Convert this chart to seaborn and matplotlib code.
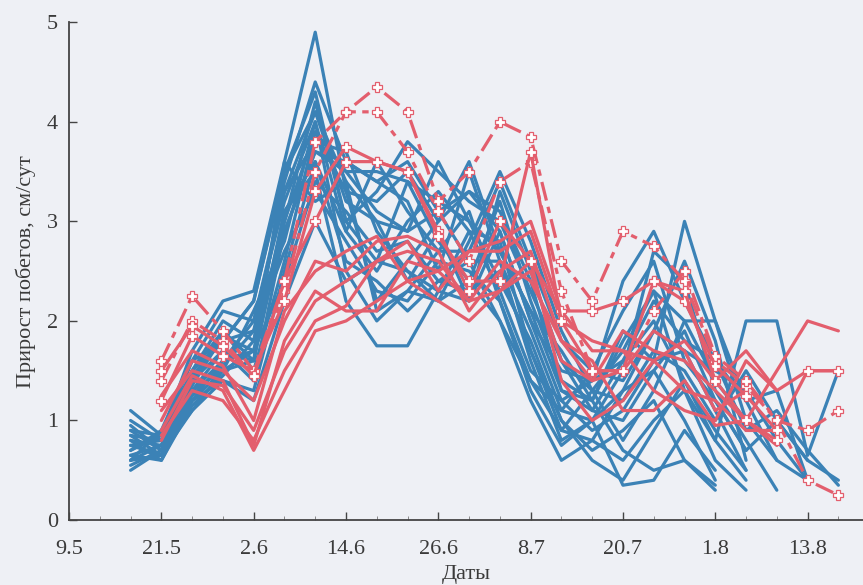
import numpy as np
import pandas as pd
import matplotlib
matplotlib.use("Agg")
import matplotlib.pyplot as plt
import seaborn as sns

# Observation days, counted from 9.5
blue_days = list(range(8, 104, 4))
red_days = list(range(12, 104, 4))

tick_days = [0, 12, 24, 36, 48, 60, 72, 84, 96]
tick_labels = ['9.5', '21.5', '2.6', '14.6', '26.6', '8.7', '20.7', '1.8', '13.8']

# Blue shoots (growth, cm/day), one list per shoot starting at day 8
blue_lines = [
    [1.1, 0.85, 1.7, 2.2, 2.3, 3.6, 4.9, 3.3, 2.2, 2.6, 3.0, 3.3, 2.9, 2.0, 1.2, 0.9, 1.1, 1.6, 3.0, 2.0, 1.0, 0.6],
    [0.95, 0.7, 1.5, 2.0, 1.8, 3.4, 4.4, 3.6, 3.4, 3.2, 2.5, 3.5, 2.6, 1.6, 0.8, 1.0, 1.5, 2.7, 2.4, 1.3, 0.8, 0.3],
    [0.85, 0.65, 1.3, 1.7, 1.6, 3.0, 4.2, 3.0, 2.6, 3.4, 2.8, 2.4, 3.2, 2.2, 1.4, 1.2, 0.7, 0.5, 0.6, 0.35],
    [0.75, 0.8, 1.2, 1.5, 2.1, 2.8, 4.0, 2.5, 2.0, 2.3, 2.2, 2.8, 3.5, 2.8, 1.9, 1.3, 0.8, 1.3, 2.0, 2.0, 1.2, 0.6, 0.4],
    [0.65, 0.75, 1.4, 1.9, 1.5, 2.6, 3.9, 3.5, 3.1, 2.9, 3.6, 3.0, 2.4, 1.8, 1.0, 0.6, 0.4, 0.9, 1.4, 0.9, 0.5],
    [0.6, 0.9, 1.6, 1.8, 1.9, 3.3, 3.8, 3.7, 2.9, 2.5, 2.3, 2.2, 3.3, 2.5, 1.6, 1.1, 1.6, 2.0, 1.4, 0.8, 2.0, 2.0, 0.65, 1.5],
    [0.55, 0.7, 1.1, 1.4, 1.3, 2.5, 3.6, 2.9, 3.6, 3.1, 2.7, 3.1, 2.2, 1.4, 1.1, 1.5, 2.1, 2.6, 1.6, 1.2, 0.7, 1.0, 0.6, 0.4],
    [0.8, 0.6, 1.2, 1.6, 1.7, 3.1, 3.5, 2.2, 1.75, 1.75, 2.3, 2.9, 2.8, 1.7, 0.9, 0.8, 1.3, 1.9, 1.7, 1.1, 0.5],
    [0.7, 0.85, 1.5, 1.8, 2.2, 3.5, 4.1, 3.2, 3.0, 2.9, 3.1, 3.3, 3.1, 2.4, 1.3, 1.2, 1.8, 2.3, 1.3, 0.6, 0.3],
    [1.0, 0.8, 1.4, 1.7, 1.4, 2.9, 3.7, 3.6, 3.4, 3.6, 3.1, 2.6, 2.6, 1.9, 1.1, 1.0, 0.35, 0.4, 0.9, 0.5],
    [0.9, 0.7, 1.25, 1.55, 1.9, 2.7, 3.3, 2.8, 2.3, 2.2, 2.6, 2.5, 2.2, 1.3, 0.75, 1.0, 1.3, 1.5, 1.0, 0.4],
    [0.6, 0.65, 1.1, 1.5, 1.6, 3.6, 3.2, 3.4, 3.0, 2.4, 2.9, 2.2, 2.9, 2.0, 1.5, 1.4, 1.6, 2.2, 1.8, 1.6, 1.2, 1.3, 0.4],
    [0.7, 0.9, 1.3, 1.6, 2.0, 3.2, 4.0, 2.9, 2.5, 3.0, 3.3, 2.9, 2.3, 1.5, 1.2, 1.4, 2.4, 2.9, 2.2, 1.6, 0.9, 1.1, 0.7, 0.35],
    [0.8, 0.75, 1.35, 1.85, 1.7, 2.4, 3.4, 3.1, 2.7, 2.8, 2.4, 2.3, 2.5, 1.7, 1.0, 0.7, 0.9, 1.2, 0.6, 0.3],
    [0.65, 0.6, 1.15, 1.45, 1.8, 3.0, 3.9, 3.3, 3.2, 3.5, 3.0, 3.6, 2.7, 2.1, 1.7, 1.2, 1.9, 1.6, 1.7, 1.5, 1.3, 0.8, 0.4],
    [0.9, 0.85, 1.6, 2.1, 2.0, 3.3, 4.1, 3.4, 2.1, 2.3, 2.7, 2.7, 3.4, 2.6, 1.8, 1.5, 1.4, 1.9, 2.6, 1.8, 0.6],
    [0.5, 0.7, 1.2, 1.4, 1.2, 2.2, 3.0, 2.4, 2.6, 2.5, 2.2, 2.4, 2.0, 1.2, 0.6, 0.8, 0.6, 1.0, 1.3, 0.8, 0.4],
    [0.75, 0.65, 1.45, 1.8, 2.2, 3.5, 4.3, 3.0, 3.3, 3.8, 3.5, 3.2, 3.0, 2.3, 1.6, 1.3, 1.2, 1.7, 1.5, 1.0, 1.5, 1.0, 0.6],
    [0.85, 0.8, 1.3, 1.5, 1.7, 2.9, 3.7, 3.5, 3.5, 3.4, 3.2, 3.0, 2.7, 2.1, 1.3, 1.1, 1.0, 1.5, 1.9, 1.2, 0.7],
    [0.6, 0.75, 1.5, 1.9, 1.6, 3.1, 3.6, 2.6, 2.4, 2.1, 2.4, 2.6, 2.0, 1.4, 0.9, 1.3, 1.7, 2.3, 2.0, 1.4, 1.0],
]

# Red shoots, starting at day 12; marked ones carry '+' markers
red_plain = [
    [1.0, 1.6, 1.5, 1.2, 2.0, 2.6, 2.5, 2.8, 2.85, 2.7, 2.1, 2.5, 2.7, 1.8, 1.4, 1.9, 1.7, 1.6, 1.3, 1.0, 1.5, 2.0, 1.9],
    [0.8, 1.4, 1.35, 0.9, 1.7, 2.2, 2.4, 2.6, 2.7, 2.6, 2.2, 2.3, 2.6, 1.4, 1.0, 1.2, 1.6, 1.8, 1.4, 1.7, 1.3, 1.5, 1.5],
    [0.85, 1.3, 1.2, 0.8, 1.5, 2.0, 2.15, 2.6, 2.8, 2.3, 2.7, 2.7, 2.9, 2.0, 1.8, 1.7, 1.3, 1.1, 1.0, 1.6, 1.3],
    [1.1, 1.5, 1.4, 0.75, 1.8, 2.3, 2.1, 2.1, 2.6, 2.5, 2.2, 2.6, 2.4, 1.8, 1.6, 1.1, 1.1, 1.4, 0.95, 1.0, 0.75],
    [0.9, 1.45, 1.3, 0.7, 1.3, 1.9, 2.0, 2.2, 2.4, 2.2, 2.0, 2.3, 2.5, 1.6, 1.4, 1.5, 1.9, 1.7, 1.1, 1.3],
    [1.25, 1.7, 1.55, 1.0, 2.1, 2.5, 2.7, 2.85, 2.4, 2.5, 2.7, 2.8, 3.0, 2.1, 1.7, 1.7, 1.6, 1.3, 1.2, 0.9, 0.9],
]
red_marked = [
    [1.6, 2.25, 1.9, 1.5, 2.4, 3.8, 4.1, 4.35, 4.1, 3.2, 3.5, 4.0, 3.85, 2.6, 2.2, 2.9, 2.75, 2.4, 1.6, 1.35, 1.0, 0.4, 0.25],
    [1.4, 2.0, 1.8, 1.45, 2.3, 3.5, 4.1, 4.1, 3.7, 3.1, 2.6, 3.4, 3.6, 2.3, 1.5, 1.5, 2.1, 2.5, 1.65, 1.4, 1.0, 0.9, 1.1],
    [1.2, 1.85, 1.65, 1.5, 2.2, 3.3, 3.75, 3.6, 3.5, 2.9, 2.3, 3.0, 2.6, 2.1, 2.1, 2.2, 2.4, 2.2, 1.55, 1.25, 0.9, 1.5, 1.5],
    [1.5, 1.95, 1.75, 1.45, 2.4, 3.0, 3.6, 3.6, 3.5, 2.85, 2.4, 2.4, 3.7, 2.0, 1.5, 1.5, 2.4, 2.3, 1.4, 1.0, 0.8],
]
red_dashed = [True, True, False, False]


def to_long(lines, days):
    rows = []
    for i, vals in enumerate(lines):
        for d, v in zip(days, vals):
            rows.append({'line': i, 'day': d, 'value': v})
    return pd.DataFrame(rows)


blue_color = '#3b82b6'
red_color = '#e35e6d'

sns.set_style('ticks')
plt.rcParams['font.family'] = ['Liberation Serif', 'DejaVu Serif']

fig, ax = plt.subplots(figsize=(8.63, 5.85), dpi=100)
fig.patch.set_facecolor('#eef0f5')
ax.set_facecolor('#eef0f5')

sns.lineplot(data=to_long(blue_lines, blue_days), x='day', y='value', units='line',
             estimator=None, color=blue_color, lw=2.3, ax=ax, legend=False)
sns.lineplot(data=to_long(red_plain, red_days), x='day', y='value', units='line',
             estimator=None, color=red_color, lw=2.3, ax=ax, legend=False)
for vals, dashed in zip(red_marked, red_dashed):
    df = pd.DataFrame({'day': red_days[:len(vals)], 'value': vals})
    sns.lineplot(data=df, x='day', y='value', color=red_color, lw=2.3, ax=ax,
                 marker='P', markersize=6.5, markerfacecolor='white',
                 markeredgecolor=red_color, markeredgewidth=0.9,
                 linestyle=(0, (6, 2, 2, 2)) if dashed else '-')

ax.set_xlim(0, 103.2)
ax.set_ylim(0, 5)
ax.set_xticks(tick_days)
ax.set_xticklabels(tick_labels)
ax.set_xticks(np.arange(0, 104, 4), minor=True)
ax.set_yticks([0, 1, 2, 3, 4, 5])
ax.tick_params(axis='both', direction='in', length=6, width=1, colors='#444444',
               labelsize=16, labelcolor='#3a3a3a')
ax.tick_params(axis='x', which='minor', direction='in', length=3, colors='#777777')
ax.tick_params(axis='x', pad=14)
ax.tick_params(axis='y', pad=8)

ax.set_xlabel('Даты', fontsize=16, color='#3a3a3a', labelpad=5)
ax.set_ylabel('Прирост побегов, см/сут', fontsize=16, color='#3a3a3a', labelpad=8)

sns.despine(ax=ax)
for side in ['left', 'bottom']:
    ax.spines[side].set_color('#444444')
    ax.spines[side].set_linewidth(1.3)

plt.subplots_adjust(left=0.080, right=1.0, bottom=0.111, top=0.962)
plt.savefig('out.png', dpi=100, facecolor=fig.get_facecolor())
